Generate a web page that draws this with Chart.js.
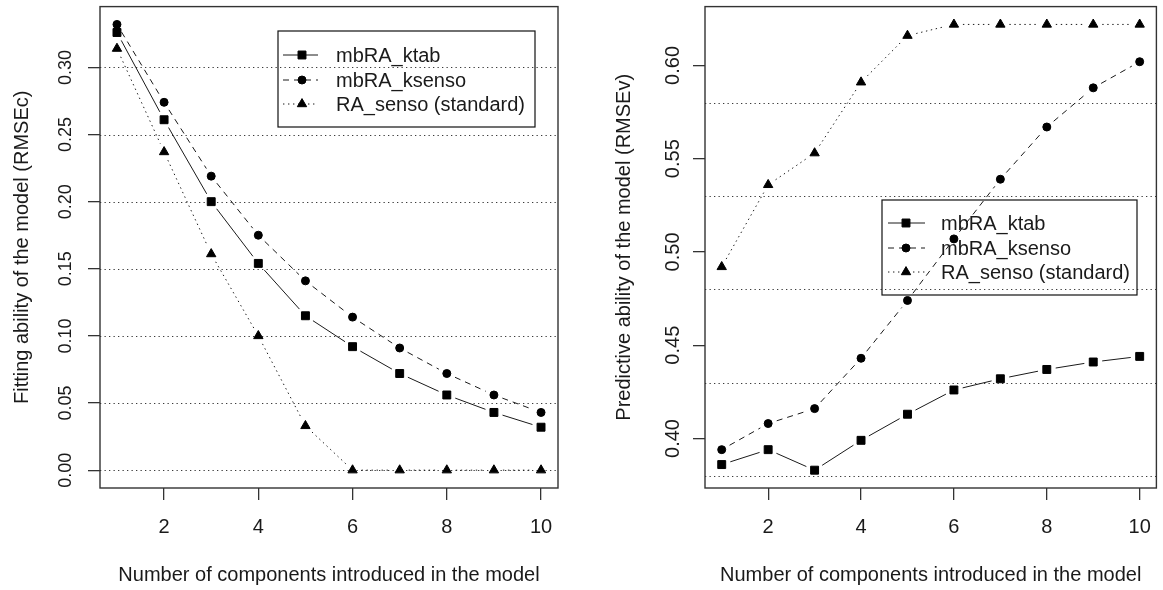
<!DOCTYPE html>
<html><head><meta charset="utf-8">
<script src="https://cdn.jsdelivr.net/npm/chart.js@4/dist/chart.umd.min.js"></script>
<style>
html,body{margin:0;padding:0;background:#fff;}
#wrap{position:relative;width:1163px;height:590px;overflow:hidden;}
.pane{position:absolute;top:0;height:590px;}
</style></head><body>
<div id="wrap">
<div class="pane" style="left:0;width:581px"><canvas id="c1" width="581" height="590"></canvas></div>
<div class="pane" style="left:581px;width:582px"><canvas id="c2" width="582" height="590"></canvas></div>
</div>
<script>
// ---- data ----
const components = [1, 2, 3, 4, 5, 6, 7, 8, 9, 10];
const seriesNames = ['mbRA_ktab', 'mbRA_ksenso', 'RA_senso (standard)'];
const fitKtab     = [0.326, 0.261, 0.200, 0.154, 0.115, 0.092, 0.072, 0.056, 0.043, 0.032];
const fitKsenso   = [0.332, 0.274, 0.219, 0.175, 0.141, 0.114, 0.091, 0.072, 0.056, 0.043];
const fitStandard = [0.314, 0.237, 0.161, 0.100, 0.033, 0.000, 0.000, 0.000, 0.000, 0.000];
const predKtab     = [0.386, 0.394, 0.383, 0.399, 0.413, 0.426, 0.432, 0.437, 0.441, 0.444];
const predKsenso   = [0.394, 0.408, 0.416, 0.443, 0.474, 0.507, 0.539, 0.567, 0.588, 0.602];
const predStandard = [0.492, 0.536, 0.553, 0.591, 0.616, 0.622, 0.622, 0.622, 0.622, 0.622];
const xTickValues = [2, 4, 6, 8, 10];
const fitYTicks  = [0.00, 0.05, 0.10, 0.15, 0.20, 0.25, 0.30];
const fitGrid    = [0.00, 0.05, 0.10, 0.15, 0.20, 0.25, 0.30];
const predYTicks = [0.40, 0.45, 0.50, 0.55, 0.60];
const predGrid   = [0.38, 0.43, 0.48, 0.53, 0.58];
const xTitle = 'Number of components introduced in the model';
const fitYTitle = 'Fitting ability of the model (RMSEc)';
const predYTitle = 'Predictive ability of the model (RMSEv)';

// ---- styles ----
const FONT = 'Liberation Sans, Arial, sans-serif';
const INK = '#1a1a1a';
const styles = [
  {pointStyle: 'rect', radius: 5.6, dash: []},
  {pointStyle: 'circle', radius: 4.0, dash: [6, 5]},
  {pointStyle: 'triangle', radius: 5.4, dash: [1.4, 3.6]}
];

function rangeOf(arrs) {
  const all = arrs.flat();
  const mn = Math.min(...all), mx = Math.max(...all);
  const p = 0.04 * (mx - mn);
  return [mn - p, mx + p];
}

function drawMarker(ctx, st, x, y) {
  ctx.save();
  ctx.fillStyle = '#000'; ctx.strokeStyle = '#000'; ctx.lineWidth = 1;
  if (Chart.helpers && Chart.helpers.drawPoint) {
    Chart.helpers.drawPoint(ctx, {pointStyle: st.pointStyle, radius: st.radius, rotation: 0, borderWidth: 1}, x, y);
  } else {
    ctx.beginPath(); ctx.arc(x, y, st.radius, 0, Math.PI * 2); ctx.fill();
  }
  ctx.restore();
}

const customPlugin = {
  id: 'rlook',
  beforeDatasetsDraw(chart, args, opts) {
    const {ctx, chartArea: a} = chart;
    const y = chart.scales.y;
    ctx.save();
    ctx.strokeStyle = '#3a3a3a'; ctx.lineWidth = 1; ctx.setLineDash([1.3, 3.2]);
    opts.grid.forEach(v => {
      const py = Math.round(y.getPixelForValue(v)) + 0.5;
      ctx.beginPath(); ctx.moveTo(a.left, py); ctx.lineTo(a.right, py); ctx.stroke();
    });
    ctx.restore();
    chart.data.datasets.forEach((ds, i) => {
      const pts = chart.getDatasetMeta(i).data;
      const gap = opts.gap;
      ctx.save();
      ctx.strokeStyle = INK; ctx.lineWidth = 1;
      for (let k = 0; k < pts.length - 1; k++) {
        const p = pts[k], q = pts[k + 1];
        const dx = q.x - p.x, dy = q.y - p.y, L = Math.hypot(dx, dy);
        if (L <= 2 * gap) continue;
        const ux = dx / L, uy = dy / L;
        ctx.setLineDash(styles[i].dash);
        ctx.beginPath();
        ctx.moveTo(p.x + ux * gap, p.y + uy * gap);
        ctx.lineTo(q.x - ux * gap, q.y - uy * gap);
        ctx.stroke();
      }
      ctx.restore();
    });
  },
  afterDatasetsDraw(chart, args, opts) {
    const ctx = chart.ctx, L = opts.legend;
    ctx.save();
    ctx.strokeStyle = '#111'; ctx.lineWidth = 1.2; ctx.setLineDash([]);
    ctx.strokeRect(L.box[0], L.box[1], L.box[2] - L.box[0], L.box[3] - L.box[1]);
    chart.data.datasets.forEach((ds, i) => {
      const ry = L.rows[i];
      ctx.save();
      ctx.strokeStyle = INK; ctx.lineWidth = 1; ctx.setLineDash(styles[i].dash);
      ctx.beginPath(); ctx.moveTo(L.line[0], ry); ctx.lineTo(L.line[1], ry); ctx.stroke();
      ctx.restore();
      drawMarker(ctx, styles[i], L.mark, ry);
      ctx.fillStyle = INK; ctx.font = '20px ' + FONT;
      ctx.textBaseline = 'middle'; ctx.textAlign = 'left';
      ctx.fillText(ds.label, L.text, ry + 1);
    });
    ctx.restore();
  },
  afterDraw(chart) {
    const {ctx, chartArea: a} = chart;
    ctx.save();
    ctx.strokeStyle = '#333'; ctx.lineWidth = 1.4; ctx.setLineDash([]);
    ctx.strokeRect(a.left, a.top, a.right - a.left, a.bottom - a.top);
    ctx.restore();
  }
};

function makeChart(id, series, yTicks, grid, yTitle, cfg) {
  const [ymin, ymax] = rangeOf(series);
  const [xmin, xmax] = rangeOf([components]);
  const datasets = series.map((vals, i) => ({
    label: seriesNames[i],
    data: components.map((c, k) => ({x: c, y: vals[k]})),
    showLine: false,
    pointStyle: styles[i].pointStyle,
    pointRadius: styles[i].radius,
    pointHoverRadius: styles[i].radius,
    pointBackgroundColor: '#000',
    pointBorderColor: '#000',
    pointBorderWidth: 1,
    borderColor: INK
  }));
  return new Chart(document.getElementById(id), {
    type: 'line',
    data: {datasets},
    plugins: [customPlugin],
    options: {
      responsive: false, animation: false, devicePixelRatio: 1,
      layout: {padding: cfg.pad},
      plugins: {legend: {display: false}, tooltip: {enabled: false},
        rlook: {grid, gap: 9, legend: cfg.legend}},
      scales: {
        x: {
          type: 'linear', min: xmin, max: xmax,
          afterBuildTicks: s => { s.ticks = xTickValues.map(v => ({value: v})); },
          afterFit: s => { s.height = 102; s.paddingLeft = 0; s.paddingRight = 0; },
          ticks: {font: {family: FONT, size: 20}, color: INK, padding: 15, maxRotation: 0, autoSkip: false,
            callback: v => String(v)},
          grid: {drawOnChartArea: false, drawTicks: true, tickLength: 12, color: '#333', lineWidth: 1.3},
          border: {display: false},
          title: {display: true, text: xTitle, font: {family: FONT, size: 20}, color: INK, padding: {top: 0, bottom: 3}}
        },
        y: {
          type: 'linear', min: ymin, max: ymax,
          afterBuildTicks: s => { s.ticks = yTicks.map(v => ({value: v})); },
          afterFit: s => { s.width = cfg.yWidth; s.paddingTop = 0; s.paddingBottom = 0; },
          ticks: {font: {family: FONT, size: cfg.yTickSize}, color: INK, padding: cfg.yTickPad,
            minRotation: 90, maxRotation: 90, crossAlign: 'center', autoSkip: false,
            callback: v => v.toFixed(2)},
          grid: {drawOnChartArea: false, drawTicks: true, tickLength: 12, color: '#333', lineWidth: 1.3},
          border: {display: false},
          title: {display: true, text: yTitle, font: {family: FONT, size: 20}, color: INK, padding: {top: cfg.yTitlePad, bottom: 0}}
        }
      }
    }
  });
}

makeChart('c1', [fitKtab, fitKsenso, fitStandard], fitYTicks, fitGrid, fitYTitle, {
  pad: {top: 6, right: 23, bottom: 0, left: 0},
  yWidth: 100, yTickSize: 18, yTickPad: 4, yTitlePad: 10,
  legend: {box: [278, 31, 535, 127], rows: [55, 80, 104], line: [283, 318], mark: 302, text: 336}
});
makeChart('c2', [predKtab, predKsenso, predStandard], predYTicks, predGrid, predYTitle, {
  pad: {top: 6, right: 1, bottom: 0, left: 0},
  yWidth: 124, yTickSize: 20, yTickPad: 0, yTitlePad: 31,
  legend: {box: [301, 200, 556, 295], rows: [223, 248, 272], line: [307, 344], mark: 325, text: 360}
});
</script>
</body></html>
